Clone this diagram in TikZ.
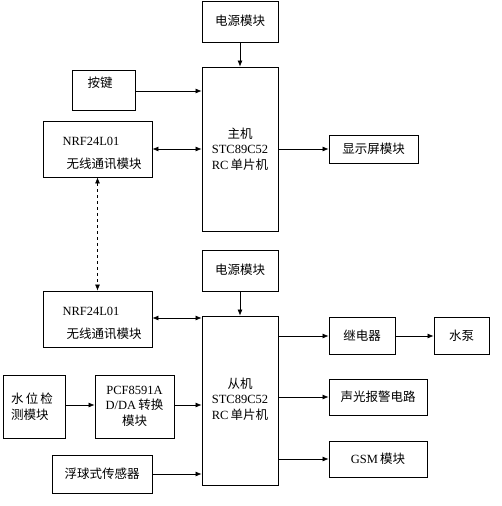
\documentclass[tikz,border=0pt]{standalone}
\usepackage{fontspec}
\setmainfont{Liberation Serif}
\newfontfamily\cjk{Noto Sans CJK SC}
\newcommand{\zh}[1]{{\cjk\fontsize{12.5}{15.5}\selectfont #1}}
\usetikzlibrary{arrows.meta}
\begin{document}
\begin{tikzpicture}[x=1pt,y=-1pt,
  box/.style={draw,line width=0.8pt,rectangle,inner sep=0pt},
  lbl/.style={inner sep=0pt,font=\fontsize{12.5}{15.5}\selectfont,align=center},
  conn/.style={line width=0.7pt,-{Latex[length=6pt,width=5pt]}},
  bconn/.style={line width=0.7pt,{Latex[length=6pt,width=5pt]}-{Latex[length=6pt,width=5pt]}}]
\useasboundingbox (0,0) rectangle (502,506);
% master side
\node[box,minimum width=76,minimum height=41] (pw1) at (240,21.5) {};
\node[lbl] (pw1t) at (240,21) {\zh{电源模块}};
\node[box,minimum width=76,minimum height=164] (mst) at (240,149) {};
\node[lbl] (mstt) at (240,149) {\zh{主机}\\STC89C52\\RC\,\zh{单片机}};
\node[box,minimum width=63,minimum height=40] (key) at (103.5,90) {};
\node[lbl] (keyt) at (100,83) {\zh{按键}};
\node[box,minimum width=109,minimum height=56] (nrf1) at (97.5,149) {};
\node[lbl] (nrf1a) at (91,141) {NRF24L01};
\node[lbl] (nrf1b) at (104,164) {\zh{无线通讯模块}};
\node[box,minimum width=89,minimum height=28] (disp) at (373.5,149) {};
\node[lbl] (dispt) at (373.5,149) {\zh{显示屏模块}};
% slave side
\node[box,minimum width=76,minimum height=41] (pw2) at (240,270.5) {};
\node[lbl] (pw2t) at (240,270) {\zh{电源模块}};
\node[box,minimum width=76,minimum height=169] (slv) at (240,400.5) {};
\node[lbl] (slvt) at (240,399) {\zh{从机}\\STC89C52\\RC\,\zh{单片机}};
\node[box,minimum width=109,minimum height=56] (nrf2) at (97.5,319) {};
\node[lbl] (nrf2a) at (91,311) {NRF24L01};
\node[lbl] (nrf2b) at (104,334) {\zh{无线通讯模块}};
\node[box,minimum width=62,minimum height=63] (wl) at (34,406.5) {};
\node[lbl,align=left,anchor=west] (wlt) at (11,406.5) {\zh{水\,位\,检}\\\zh{测模块}};
\node[box,minimum width=79,minimum height=63] (pcf) at (134.5,406.5) {};
\node[lbl] (pcft) at (134.5,406) {PCF8591A\\D/DA\,\zh{转换}\\\zh{模块}};
\node[box,minimum width=100,minimum height=38] (flt) at (102,474) {};
\node[lbl] (fltt) at (102,474) {\zh{浮球式传感器}};
\node[box,minimum width=66,minimum height=37] (rly) at (362,335.5) {};
\node[lbl] (rlyt) at (362,335.5) {\zh{继电器}};
\node[box,minimum width=55,minimum height=37] (pump) at (461.5,335.5) {};
\node[lbl] (pumpt) at (461.5,335.5) {\zh{水泵}};
\node[box,minimum width=98,minimum height=36] (alm) at (378,397) {};
\node[lbl] (almt) at (378,397) {\zh{声光报警电路}};
\node[box,minimum width=98,minimum height=36] (gsm) at (378,459) {};
\node[lbl] (gsmt) at (378,459) {GSM\,\zh{模块}};
% connectors
\draw[conn] (pw1.south) -- (mst.north);
\draw[conn] (key.east |- 0,91) -- (mst.west |- 0,91);
\draw[bconn] (nrf1.east) -- (mst.west |- nrf1.east);
\draw[conn] (mst.east |- disp.west) -- (disp.west);
\draw[bconn,dashed] (nrf1.south) -- (nrf2.north);
\draw[conn] (pw2.south) -- (slv.north);
\draw[bconn] (nrf2.east |- 0,318) -- (slv.west |- 0,318);
\draw[conn] (wl.east |- 0,405) -- (pcf.west |- 0,405);
\draw[conn] (pcf.east |- 0,405) -- (slv.west |- 0,405);
\draw[conn] (flt.east) -- (slv.west |- flt.east);
\draw[conn] (slv.east |- 0,336) -- (rly.west |- 0,336);
\draw[conn] (rly.east |- 0,336) -- (pump.west |- 0,336);
\draw[conn] (slv.east |- alm.west) -- (alm.west);
\draw[conn] (slv.east |- gsm.west) -- (gsm.west);
\end{tikzpicture}
\end{document}
